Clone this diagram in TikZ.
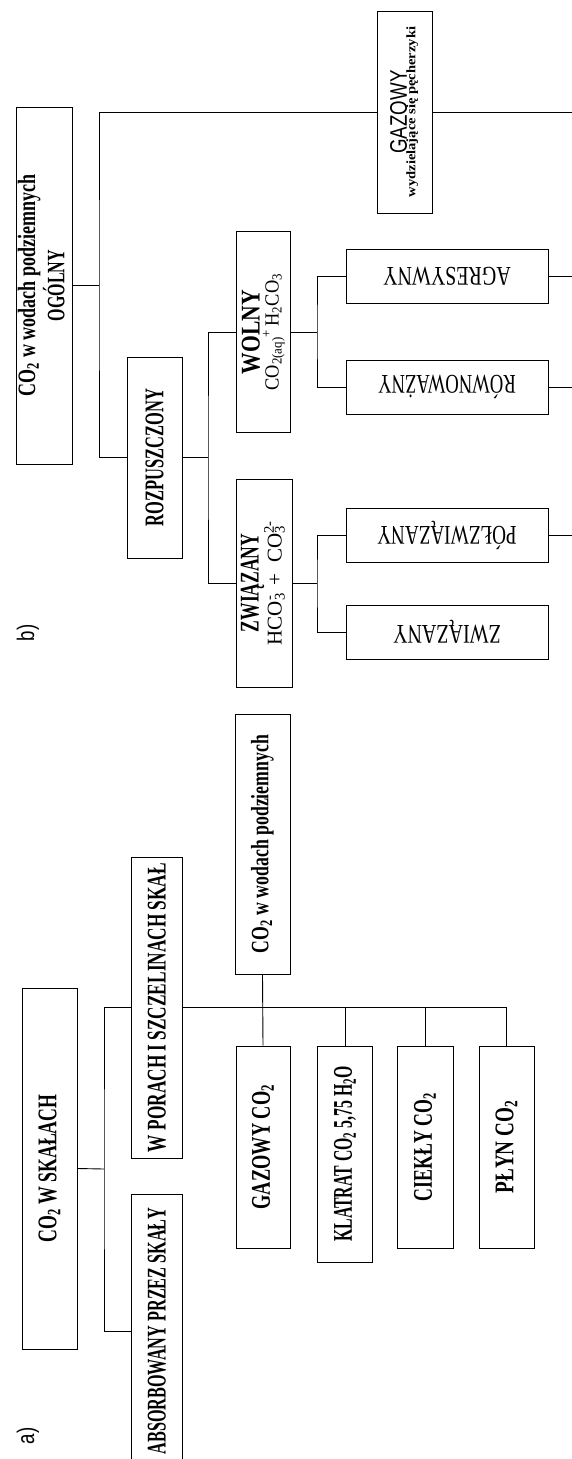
\documentclass[tikz,border=0pt]{standalone}
\usepackage{fontspec}
\setmainfont{Liberation Serif}
\newfontfamily\labfont[FakeStretch=0.78]{Liberation Sans}
\newcommand\sub[1]{\textsubscript{#1}}
\newcommand\ion[2]{\rlap{\textsubscript{#1}}\textsuperscript{#2}}
\newcommand\up[1]{\rotatebox{90}{#1}}
\newcommand\down[1]{\rotatebox{180}{#1}}
\newcommand\sq[2]{\scalebox{#1}[1]{#2}}
\newcommand\lines[1]{\begin{tabular}{@{}c@{}}#1\end{tabular}}

\begin{document}
\begin{tikzpicture}[x=1pt,y=-1pt,
    box/.style={draw,line width=0.9pt,inner sep=0pt},
    sz/.style 2 args={minimum width=#1pt,minimum height=#2pt},
    link/.style={line width=0.9pt},
    labtext/.style={font=\labfont\fontsize{24}{26}\selectfont},
    bigtext/.style={font=\bfseries\fontsize{27}{30}\selectfont},
    midtext/.style={font=\bfseries\fontsize{25}{26}\selectfont},
    fliptext/.style={font=\fontsize{27}{30}\selectfont}]
        \useasboundingbox (0,0) rectangle (572,1459);
        % b) CO2 ogolny
        \node[labtext] (lb) at (28,633) {\up{b)}};
        \node[box,sz={55}{357},midtext] (ogolny) at (44.5,285.5)
            {\up{\lines{\sq{.72}{CO\sub{2} w wodach podziemnych}\\ \sq{.64}{OGÓLNY}}}};
        \node[box,sz={55}{202}] (gazb) at (404.5,112)
            {\up{\lines{{\labfont\fontsize{24}{26}\selectfont GAZOWY}\\[-4pt]
             \sq{1.12}{\bfseries\fontsize{13}{14}\selectfont wydzielające się pęcherzyki}}}};
        \node[box,sz={55}{201},bigtext] (rozp) at (154.5,457.5) {\up{\sq{.61}{ROZPUSZCZONY}}};
        \node[box,sz={54}{201},bigtext] (wolny) at (263,332)
            {\up{\lines{\sq{.8}{WOLNY}\\[-11pt]
             \sq{.92}{\mdseries\fontsize{20}{22}\selectfont CO\sub{2(aq)}\textsuperscript{+}\,H\sub{2}CO\sub{3}}}}};
        \node[box,sz={56}{208},bigtext] (zwiaz) at (264,583)
            {\up{\lines{\sq{.65}{ZWIĄZANY}\\[-7pt]
             {\mdseries\fontsize{21}{22}\selectfont HCO\ion{3}{-}\enspace+\enspace CO\ion{3}{2-}}}}};
        \node[box,sz={202}{54},fliptext] (agr) at (447,276) {\down{\sq{.74}{AGRESYWNY}}};
        \node[box,sz={202}{54},fliptext] (row) at (447,387) {\down{\sq{.69}{RÓWNOWAŻNY}}};
        \node[box,sz={202}{54},fliptext] (polz) at (447,535) {\down{\sq{.71}{PÓŁZWIĄZANY}}};
        \node[box,sz={202}{54},fliptext] (zw) at (447,632) {\down{\sq{.74}{ZWIĄZANY}}};
        \coordinate (rim) at (572,0);
        \coordinate (spineB) at (99,285.5);
        \coordinate (spineR) at (208,457.5);
        \coordinate (spineW) at (317,332);
        \coordinate (spineZ) at (317,583);
        \draw[link] (ogolny.east) -- (spineB);
        \draw[link] (gazb.west) -| (spineB) |- (rozp.west);
        \draw[link] (gazb.east) -- (gazb.east -| rim);
        \draw[link] (rozp.east) -- (spineR);
        \draw[link] (wolny.west) -| (spineR) |- (zwiaz.west);
        \draw[link] (wolny.east) -- (spineW);
        \draw[link] (agr.west) -| (spineW) |- (row.west);
        \draw[link] (zwiaz.east) -- (spineZ);
        \draw[link] (polz.west) -| (spineZ) |- (zw.west);
        \draw[link] (agr.east) -- (agr.east -| rim);
        \draw[link] (row.east) -- (row.east -| rim);
        \draw[link] (polz.east) -- (polz.east -| rim);
        % a) CO2 w skalach
        \node[labtext] (la) at (28,1436) {\up{a)}};
        \node[box,sz={55}{361},bigtext] (skaly) at (49.5,1168.5) {\up{\sq{.66}{CO\sub{2} W\ SKAŁACH}}};
        \node[box,sz={51}{301},bigtext] (pory) at (157,1007.5) {\up{\sq{.64}{W PORACH I SZCZELINACH SKAŁ}}};
        \node[box,sz={51}{274},bigtext] (absorb) at (157,1331) {\up{\sq{.6}{ABSORBOWANY PRZEZ SKAŁY}}};
        \node[box,sz={55}{260},midtext] (wody) at (262.5,844) {\up{\sq{.71}{CO\sub{2} w wodach podziemnych}}};
        \node[box,sz={54}{202},bigtext] (gaz) at (263,1147) {\up{\sq{.68}{GAZOWY CO\sub{2}}}};
        \node[box,sz={55}{216},bigtext] (klat) at (345,1154) {\up{\sq{.585}{KLATRAT CO\sub{2} 5,75 H\sub{2}O}}};
        \node[box,sz={56}{202},bigtext] (ciek) at (425,1147) {\up{\sq{.66}{CIEKŁY CO\sub{2}}}};
        \node[box,sz={55}{202},bigtext] (plyn) at (506.5,1147) {\up{\sq{.71}{PŁYN CO\sub{2}}}};
        \coordinate (spineA) at (104,1169);
        \draw[link] (skaly.east) -- (spineA);
        \draw[link] (pory.west) -| (spineA) |- (absorb.west);
        \draw[link] (pory.east) -| (plyn.north);
        \draw[link] (klat.north) -- (klat.north |- pory.east);
        \draw[link] (ciek.north) -- (ciek.north |- pory.east);
        \draw[link] (wody.south) -- (gaz.north);
    \end{tikzpicture}
\end{document}
